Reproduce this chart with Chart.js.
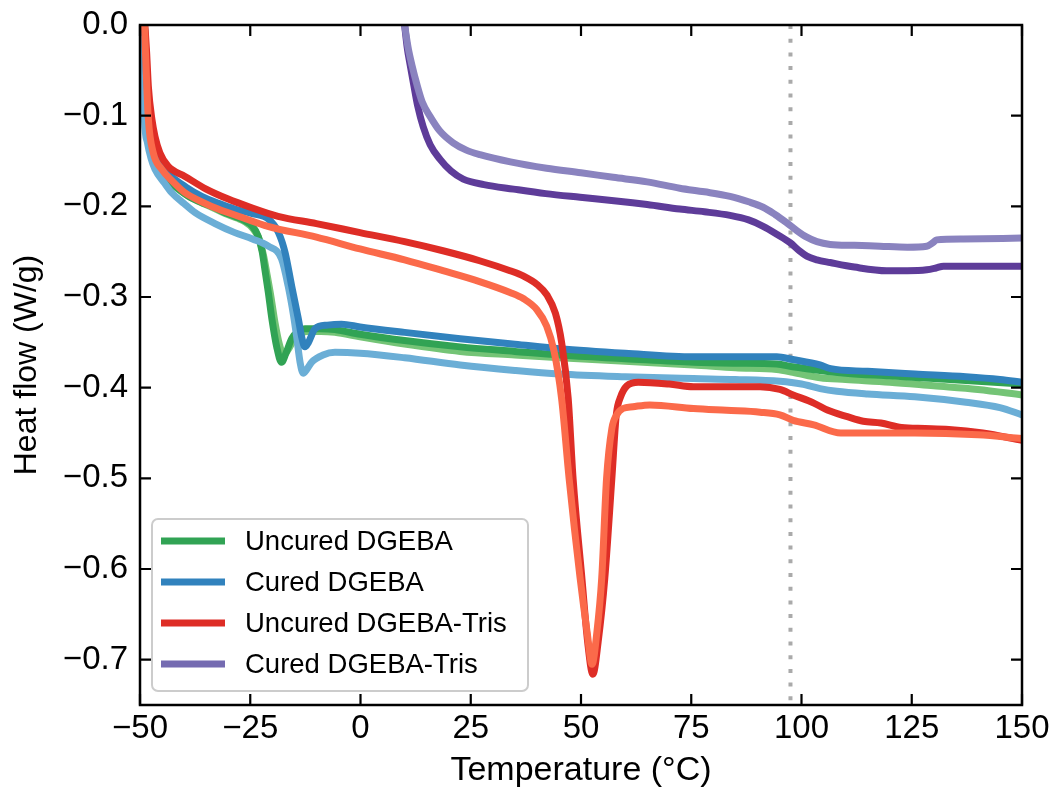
<!DOCTYPE html>
<html>
<head>
<meta charset="utf-8">
<script src="https://cdn.jsdelivr.net/npm/chart.js@4/dist/chart.umd.min.js"></script>
<style>
    body { margin: 0; background: #fff; }
    canvas { display: block; }
</style>
</head>
<body>
<canvas id="dsc" width="1056" height="797"></canvas>
<script>
// DSC traces, heat flow (W/g) against temperature (°C), two runs per sample
const uncuredA_T = [-49.0, -48.5, -47.8, -46.8, -45.9, -43.5, -42.1, -39, -36, -33.7, -30.7, -28, -26.2, -24.5, -23.2, -22.3, -21.7, -20.9, -20.1, -19.0, -17.9, -16.9, -15.6, -14.2, -12.6, -9, -5.8, -0.1, 10, 22.6, 35, 45.2, 60, 75.5, 85, 94.4, 98, 104.2, 110, 120, 130, 140, 150];
const uncuredA_HF = [0, -0.05, -0.1, -0.135, -0.157, -0.172, -0.178, -0.189, -0.196, -0.2, -0.207, -0.212, -0.216, -0.222, -0.233, -0.25, -0.269, -0.295, -0.324, -0.355, -0.372, -0.362, -0.346, -0.338, -0.335, -0.335, -0.336, -0.341, -0.348, -0.355, -0.36, -0.364, -0.368, -0.372, -0.373, -0.374, -0.377, -0.381, -0.384, -0.387, -0.39, -0.393, -0.396];

const uncuredB_T = [-49.0, -48.5, -47.8, -46.8, -45.9, -43.5, -42.1, -39, -36, -33.7, -30.7, -28, -26.2, -24.5, -23.0, -22.0, -21.2, -20.3, -19.4, -18.4, -17.4, -16.4, -15.2, -13.8, -12.2, -9, -5.8, -0.1, 10, 22.6, 35, 45.2, 60, 75.5, 85, 94.4, 98, 104.2, 110, 120, 130, 140, 150];
const uncuredB_HF = [0, -0.05, -0.1, -0.135, -0.157, -0.172, -0.178, -0.189, -0.196, -0.201, -0.208, -0.213, -0.217, -0.224, -0.236, -0.254, -0.275, -0.3, -0.328, -0.352, -0.364, -0.358, -0.348, -0.341, -0.338, -0.338, -0.339, -0.344, -0.352, -0.36, -0.364, -0.367, -0.371, -0.375, -0.378, -0.38, -0.383, -0.389, -0.391, -0.394, -0.398, -0.402, -0.408];

const curedA_T = [-49.0, -48.6, -48.0, -47.2, -46.6, -44.5, -42.8, -39.5, -36, -32, -28.5, -24.5, -20.9, -18.6, -17.1, -15.6, -14.1, -13.3, -12.6, -11.8, -10.3, -7.5, -4.3, -0.1, 10, 22.6, 35, 45.2, 60, 75.5, 85, 94.4, 98, 104.2, 106.6, 115, 125.7, 137.3, 145, 150];
const curedA_HF = [0, -0.05, -0.09, -0.125, -0.141, -0.157, -0.167, -0.179, -0.189, -0.197, -0.203, -0.208, -0.214, -0.229, -0.251, -0.288, -0.324, -0.345, -0.355, -0.35, -0.335, -0.331, -0.33, -0.333, -0.339, -0.346, -0.352, -0.357, -0.362, -0.366, -0.366, -0.366, -0.369, -0.375, -0.379, -0.382, -0.385, -0.388, -0.391, -0.394];

const curedB_T = [-49.5, -49.3, -49.0, -48.3, -47.5, -46.6, -44.5, -42.8, -40, -37.5, -33, -28.5, -24.5, -20.9, -17.9, -16.4, -15.2, -14.5, -13.7, -13.0, -12.2, -11.1, -8.5, -5.8, -0.1, 10, 22.6, 35, 45.2, 60, 75.5, 85, 95.1, 100, 104.2, 108, 115, 125.7, 137.3, 145, 150];
const curedB_HF = [0, -0.05, -0.104, -0.13, -0.147, -0.159, -0.174, -0.185, -0.197, -0.207, -0.219, -0.229, -0.236, -0.244, -0.258, -0.288, -0.32, -0.343, -0.372, -0.384, -0.38, -0.372, -0.364, -0.361, -0.362, -0.367, -0.375, -0.381, -0.385, -0.388, -0.39, -0.391, -0.393, -0.396, -0.401, -0.404, -0.407, -0.41, -0.416, -0.422, -0.43];

const uncuredTrisA_T = [-48.9, -48.5, -48.1, -47.3, -46.6, -45.5, -43.6, -39.8, -35, -30, -25, -18.7, -10, -0.1, 10, 18.7, 27, 33.9, 37, 40, 42.3, 44.2, 45.6, 47.1, 48.2, 50.2, 51.5, 52.7, 53.9, 55.4, 57.0, 58.0, 59.0, 60.4, 63, 70, 75.5, 83, 90.6, 95.1, 98.1, 102.8, 106, 110.4, 114, 118, 122.7, 128, 133.4, 141.1, 150];
const uncuredTrisA_HF = [0, -0.03, -0.068, -0.104, -0.123, -0.141, -0.156, -0.167, -0.181, -0.192, -0.201, -0.211, -0.219, -0.229, -0.239, -0.249, -0.26, -0.271, -0.277, -0.286, -0.298, -0.318, -0.35, -0.412, -0.5, -0.61, -0.68, -0.716, -0.68, -0.61, -0.5, -0.43, -0.41, -0.398, -0.394, -0.396, -0.399, -0.399, -0.399, -0.402, -0.408, -0.417, -0.425, -0.432, -0.437, -0.439, -0.444, -0.445, -0.446, -0.45, -0.458];

const uncuredTrisB_T = [-49.0, -48.6, -48.1, -47.0, -45.1, -42.5, -39.8, -36, -32.3, -27, -21, -10, -0.1, 10, 18.7, 27, 33.9, 37, 40, 42.2, 43.9, 45.6, 47.3, 49.8, 51.4, 52.5, 53.6, 54.7, 55.8, 57.0, 58.1, 59.5, 61.8, 65.6, 75.5, 83, 90.6, 95.1, 98.1, 102.8, 108.9, 115, 125.7, 140, 150];
const uncuredTrisB_HF = [0, -0.05, -0.104, -0.141, -0.159, -0.173, -0.185, -0.195, -0.203, -0.212, -0.222, -0.234, -0.247, -0.259, -0.271, -0.283, -0.295, -0.302, -0.314, -0.332, -0.36, -0.412, -0.5, -0.61, -0.67, -0.705, -0.67, -0.61, -0.5, -0.445, -0.43, -0.423, -0.421, -0.419, -0.423, -0.425, -0.427, -0.43, -0.436, -0.441, -0.45, -0.45, -0.45, -0.452, -0.456];

const curedTrisA_T = [10.0, 10.6, 11.3, 12.0, 13.0, 14.2, 15.8, 18.0, 20.5, 23.3, 28, 34.7, 42, 49.8, 58, 65, 72.4, 78, 83.8, 88, 91.3, 94.5, 97.4, 99.5, 101.2, 103.5, 106.5, 112, 119.3, 124, 128.4, 130.5, 132.2, 140, 150];
const curedTrisA_HF = [0, -0.025, -0.045, -0.064, -0.09, -0.112, -0.132, -0.148, -0.161, -0.17, -0.176, -0.181, -0.186, -0.19, -0.194, -0.198, -0.203, -0.206, -0.21, -0.215, -0.222, -0.231, -0.24, -0.249, -0.255, -0.259, -0.262, -0.267, -0.271, -0.271, -0.27, -0.268, -0.266, -0.266, -0.266];

const curedTrisB_T = [10.0, 10.8, 11.7, 12.7, 14.0, 15.8, 18.0, 21.0, 24, 27.1, 34, 42.2, 50, 57.3, 65, 72.4, 78, 83.8, 88, 91.3, 94, 96.6, 99, 101.2, 103.5, 106.5, 112, 117.8, 124, 128.4, 129.8, 130.6, 136.7, 150];
const curedTrisB_HF = [0, -0.025, -0.045, -0.064, -0.085, -0.101, -0.117, -0.13, -0.138, -0.143, -0.151, -0.158, -0.163, -0.168, -0.173, -0.18, -0.184, -0.189, -0.195, -0.201, -0.209, -0.218, -0.227, -0.234, -0.239, -0.242, -0.243, -0.244, -0.245, -0.244, -0.24, -0.237, -0.236, -0.235];

// dotted marker line
const markerT = 97.5;

const xTickValues = [-50, -25, 0, 25, 50, 75, 100, 125, 150];
const yTickValues = [0, -0.1, -0.2, -0.3, -0.4, -0.5, -0.6, -0.7];

const legendLabels = ['Uncured DGEBA', 'Cured DGEBA', 'Uncured DGEBA-Tris', 'Cured DGEBA-Tris'];
const legendColors = ['#31a354', '#3182bd', '#de2d26', '#756bb1'];

const FONT = "'Liberation Sans', Arial, Helvetica, sans-serif";

const toPoints = (xs, ys) => xs.map((x, i) => ({ x: x, y: ys[i] }));
const minus = s => String(s).replace('-', '\u2212');

const trace = (xs, ys, color) => ({
    data: toPoints(xs, ys),
    borderColor: color,
    borderWidth: 7,
    pointRadius: 0,
    cubicInterpolationMode: 'monotone',
    borderCapStyle: 'round',
    borderJoinStyle: 'round',
    clip: 0
});

// no extra room for overhanging tick labels, the box is fixed
const noOverhang = s => {
    s.paddingTop = 0;
    s.paddingBottom = 0;
    s.paddingLeft = 0;
    s.paddingRight = 0;
};

// inward ticks on all four sides plus the box frame
const frameTicks = {
    id: 'frameTicks',
    afterDatasetsDraw(chart) {
        const { ctx, chartArea: a, scales } = chart;
        const len = 11;
        ctx.save();
        ctx.strokeStyle = '#000';
        ctx.lineWidth = 2.2;
        ctx.beginPath();
        xTickValues.forEach(v => {
            const px = scales.x.getPixelForValue(v);
            ctx.moveTo(px, a.bottom); ctx.lineTo(px, a.bottom - len);
            ctx.moveTo(px, a.top); ctx.lineTo(px, a.top + len);
        });
        yTickValues.forEach(v => {
            const py = scales.y.getPixelForValue(v);
            ctx.moveTo(a.left, py); ctx.lineTo(a.left + len, py);
            ctx.moveTo(a.right, py); ctx.lineTo(a.right - len, py);
        });
        ctx.stroke();
        ctx.lineWidth = 2.5;
        ctx.strokeRect(a.left, a.top, a.right - a.left, a.bottom - a.top);
        ctx.restore();
    }
};

const boxLegend = {
    id: 'boxLegend',
    afterDraw(chart) {
        const { ctx, chartArea: a } = chart;
        const x = a.left + 12, w = 376, h = 172;
        const y = a.bottom - 14 - h;
        ctx.save();
        ctx.beginPath();
        ctx.roundRect(x, y, w, h, 6);
        ctx.fillStyle = 'rgba(255,255,255,0.85)';
        ctx.fill();
        ctx.strokeStyle = '#cccccc';
        ctx.lineWidth = 2;
        ctx.stroke();
        ctx.font = '27.5px ' + FONT;
        ctx.textBaseline = 'middle';
        legendLabels.forEach((label, i) => {
            const cy = y + 22 + i * 41;
            ctx.strokeStyle = legendColors[i];
            ctx.lineWidth = 7;
            ctx.beginPath();
            ctx.moveTo(x + 9, cy);
            ctx.lineTo(x + 73, cy);
            ctx.stroke();
            ctx.fillStyle = '#000';
            ctx.fillText(label, x + 93, cy + 1);
        });
        ctx.restore();
    }
};

new Chart(document.getElementById('dsc'), {
    type: 'line',
    data: {
        datasets: [
            trace(uncuredTrisB_T, uncuredTrisB_HF, '#fb6a4a'),
            trace(uncuredTrisA_T, uncuredTrisA_HF, '#de2d26'),
            trace(curedTrisB_T, curedTrisB_HF, '#8a83bf'),
            trace(curedTrisA_T, curedTrisA_HF, '#5e3c99'),
            trace(curedA_T, curedA_HF, '#3182bd'),
            trace(curedB_T, curedB_HF, '#6baed6'),
            trace(uncuredA_T, uncuredA_HF, '#31a354'),
            trace(uncuredB_T, uncuredB_HF, '#74c476'),
            {
                data: [{ x: markerT, y: 0 }, { x: markerT, y: -0.75 }],
                borderColor: '#aaaaaa',
                borderWidth: 4,
                borderDash: [4, 9.7],
                pointRadius: 0,
                clip: 0
            }
        ]
    },
    options: {
        responsive: false,
        animation: false,
        devicePixelRatio: 1,
        layout: { padding: { left: 0, top: 25, right: 34, bottom: 0 } },
        plugins: { legend: { display: false }, tooltip: { enabled: false } },
        scales: {
            x: {
                type: 'linear',
                min: -50,
                max: 150,
                afterFit: s => { s.height = 92; noOverhang(s); },
                afterBuildTicks: s => { s.ticks = xTickValues.map(v => ({ value: v })); },
                grid: { display: false, drawTicks: false },
                border: { display: false },
                ticks: {
                    color: '#000',
                    padding: 4,
                    maxRotation: 0,
                    font: { family: FONT, size: 33 },
                    callback: v => minus(v)
                },
                title: {
                    display: true,
                    text: 'Temperature (°C)',
                    color: '#000',
                    font: { family: FONT, size: 34 },
                    padding: { top: 0, bottom: 6 }
                }
            },
            y: {
                type: 'linear',
                min: -0.75,
                max: 0,
                afterFit: s => { s.width = 140; noOverhang(s); },
                afterBuildTicks: s => { s.ticks = yTickValues.map(v => ({ value: v })); },
                grid: { display: false, drawTicks: false },
                border: { display: false },
                ticks: {
                    color: '#000',
                    padding: 12,
                    font: { family: FONT, size: 33 },
                    callback: v => minus(Math.abs(v) < 1e-9 ? '0.0' : v.toFixed(1))
                },
                title: {
                    display: true,
                    text: 'Heat flow (W/g)',
                    color: '#000',
                    font: { family: FONT, size: 32 },
                    padding: { top: 8, bottom: 0 }
                }
            }
        }
    },
    plugins: [frameTicks, boxLegend]
});
</script>
</body>
</html>
